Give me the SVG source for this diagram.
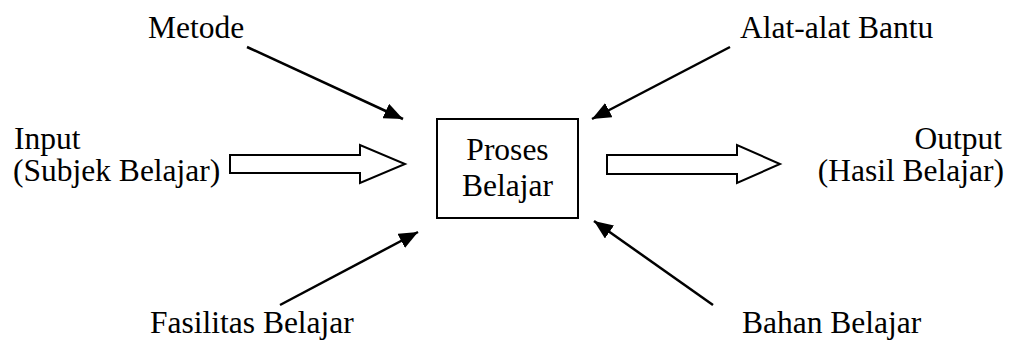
<svg xmlns="http://www.w3.org/2000/svg" width="1017" height="340" viewBox="0 0 1017 340">
  <style>
    text { font-family: "Liberation Serif", "Times New Roman", serif; font-size: 31.5px; fill: #000; }
    .mid { text-anchor: middle; }
    .end { text-anchor: end; }
    .link { stroke: #000; stroke-width: 2.5; fill: none; marker-end: url(#head); }
    .block { stroke: #000; stroke-width: 2; fill: #fff; }
    .box { stroke: #000; stroke-width: 2; fill: #fff; }
  </style>
  <defs>
    <marker id="head" markerUnits="userSpaceOnUse" markerWidth="20" markerHeight="16" refX="19" refY="8" orient="auto">
      <path d="M0,0 L19,8 L0,16 Z" fill="#000"/>
    </marker>
  </defs>
  <rect width="1017" height="340" fill="#fff"/>

  <!-- thin arrows from the four influences, block arrows for input and output -->
  <g id="connectors">
    <line class="link" x1="247" y1="47" x2="403" y2="119"/>
    <line class="link" x1="730" y1="47" x2="592" y2="119"/>
    <line class="link" x1="280" y1="305" x2="418" y2="232"/>
    <line class="link" x1="713" y1="305" x2="594" y2="221"/>
    <path class="block" d="M230,155 L360,155 L360,145 L405,164 L360,183 L360,173 L230,173 Z"/>
    <path class="block" d="M607,155 L737,155 L737,145 L780,164 L737,183 L737,174 L607,174 Z"/>
  </g>

  <g id="proses">
    <rect class="box" x="437" y="119" width="141" height="99"/>
    <text class="mid" x="507.5" y="160">Proses</text>
    <text class="mid" x="507.5" y="196">Belajar</text>
  </g>

  <g id="metode">
    <text x="148" y="38">Metode</text>
  </g>

  <g id="alat">
    <text x="740" y="38">Alat-alat Bantu</text>
  </g>

  <g id="input">
    <text x="14" y="149">Input</text>
    <text x="13" y="181">(Subjek Belajar)</text>
  </g>

  <g id="output">
    <text class="end" x="1002" y="149">Output</text>
    <text class="end" x="1004" y="181">(Hasil Belajar)</text>
  </g>

  <g id="fasilitas">
    <text x="150" y="333">Fasilitas Belajar</text>
  </g>

  <g id="bahan">
    <text x="742" y="333">Bahan Belajar</text>
  </g>
</svg>
